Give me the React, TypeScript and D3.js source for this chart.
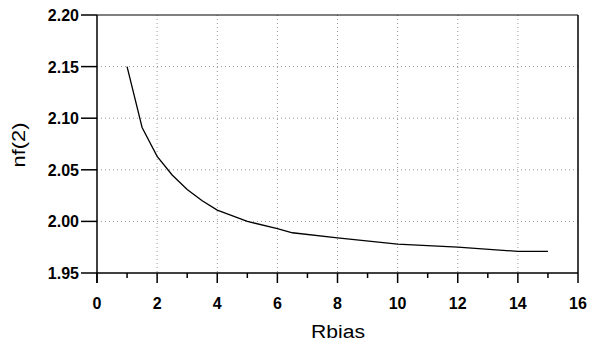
import React from "react";
import * as d3 from "d3";

const rbias = [1, 1.5, 2, 2.5, 3, 3.5, 4, 5, 6, 6.5, 8, 10, 12, 14, 15];
const nf2 = [2.15, 2.091, 2.063, 2.045, 2.031, 2.02, 2.011, 2.0, 1.993, 1.989, 1.984, 1.978, 1.975, 1.971, 1.971];
const xTicks = [0, 2, 4, 6, 8, 10, 12, 14, 16];
const xMinor = [1, 3, 5, 7, 9, 11, 13, 15];
const yTicks = [1.95, 2.0, 2.05, 2.1, 2.15, 2.2];

export default function App() {
  const W = 590, H = 349;
  const left = 97, right = 578, top = 15, bottom = 273;
  const x = d3.scaleLinear().domain([0, 16]).range([left, right]);
  const y = d3.scaleLinear().domain([1.95, 2.2]).range([bottom, top]);
  const line = d3.line<number>().x((_, i) => x(rbias[i])).y((d) => y(d));
  const font = "'Liberation Sans', Arial, sans-serif";
  return (
    <svg width={W} height={H} style={{ position: "absolute", left: 0, top: 0, background: "#fff" }}>
      <rect x={0} y={0} width={W} height={H} fill="#fff" />
      {xTicks.slice(1, -1).map((t) => (
        <line key={"gx" + t} x1={x(t)} x2={x(t)} y1={top} y2={bottom} stroke="#999" strokeWidth={1} strokeDasharray="1,3" />
      ))}
      {yTicks.slice(1, -1).map((t) => (
        <line key={"gy" + t} x1={left} x2={right} y1={y(t)} y2={y(t)} stroke="#999" strokeWidth={1} strokeDasharray="1,3" />
      ))}
      <line x1={left} x2={right} y1={top} y2={top} stroke="#000" strokeWidth={1.2} />
      <line x1={right} x2={right} y1={top} y2={bottom} stroke="#000" strokeWidth={1.5} />
      <line x1={left} x2={left} y1={top} y2={bottom + 10} stroke="#000" strokeWidth={1.5} />
      <line x1={left} x2={right} y1={bottom} y2={bottom} stroke="#000" strokeWidth={1.5} />
      {xTicks.map((t) => (
        <g key={"xt" + t}>
          <line x1={x(t)} x2={x(t)} y1={bottom} y2={bottom + 10} stroke="#000" strokeWidth={1.5} />
          <text x={x(t)} y={309} textAnchor="middle" fontFamily={font} fontSize={16} fontWeight="bold" fill="#000">{t}</text>
        </g>
      ))}
      {xMinor.map((t) => (
        <line key={"xm" + t} x1={x(t)} x2={x(t)} y1={bottom} y2={bottom + 5} stroke="#000" strokeWidth={1.5} />
      ))}
      {yTicks.map((t) => (
        <g key={"yt" + t}>
          <line x1={left - 16} x2={left} y1={y(t)} y2={y(t)} stroke="#000" strokeWidth={1.5} />
          <text x={79} y={y(t) + 6} textAnchor="end" fontFamily={font} fontSize={16} fontWeight="bold" fill="#000">{t.toFixed(2)}</text>
        </g>
      ))}
      <path d={line(nf2) || ""} fill="none" stroke="#000" strokeWidth={1.3} />
      <text x={338} y={338} textAnchor="middle" fontFamily={font} fontSize={18} textLength={54} lengthAdjust="spacingAndGlyphs" fill="#000">Rbias</text>
      <text transform="translate(25,145) rotate(-90)" textAnchor="middle" fontFamily={font} fontSize={18} textLength={45} lengthAdjust="spacingAndGlyphs" fill="#000">nf(2)</text>
    </svg>
  );
}
